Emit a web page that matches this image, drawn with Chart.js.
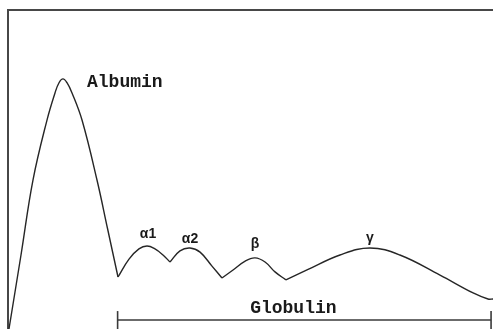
<!DOCTYPE html>
<html>
<head>
<meta charset="utf-8">
<script src="https://cdn.jsdelivr.net/npm/chart.js@4"></script>
<style>
  html, body { margin: 0; padding: 0; background: #fff; }
  #wrap { width: 493px; height: 329px; }
</style>
</head>
<body>
<div id="wrap"><canvas id="c" width="493" height="329"></canvas></div>
<script>
// Serum protein electrophoresis curve (relative mobility 0-100, relative density 0-100)
const fractionNames = ['Albumin', 'α1', 'α2', 'β', 'γ'];

const albuminX = [0.2, 2.68, 5.15, 8.04, 9.69, 10.52, 11.34, 12.16, 13.2, 15.26, 18.35, 20.52, 22.68];
const albuminY = [0, 23.2, 46.7, 65.5, 74.0, 77.2, 78.4, 77.2, 74.0, 65.5, 46.7, 31.5, 16.3];

const alpha1X = [22.68, 24.95, 27.0, 28.66, 30.3, 31.96, 33.4];
const alpha1Y = [16.3, 21.9, 25.1, 26.0, 25.1, 23.2, 21.0];

const alpha2X = [33.4, 35.46, 37.53, 39.6, 42.06, 44.12];
const alpha2Y = [21.0, 24.5, 25.4, 24.1, 19.7, 16.0];

const betaX = [44.12, 46.4, 48.9, 50.93, 53.0, 55.05, 57.3];
const betaY = [16.0, 18.5, 21.3, 22.3, 21.0, 17.9, 15.4];

const gammaX = [57.3, 61.65, 68.45, 74.64, 80.8, 89.07, 95.9, 98.97, 100];
const gammaY = [15.4, 18.5, 23.2, 25.4, 23.2, 16.9, 11.3, 9.4, 9.4];

const globulinLabel = 'Globulin';
const globulinRangeX = [22.6, 99.6];
const globulinRangeY = [2.8, 2.8];

const seriesX = [albuminX, alpha1X, alpha2X, betaX, gammaX];
const seriesY = [albuminY, alpha1Y, alpha2Y, betaY, gammaY];

// label styling (offsets in px from each fraction's peak)
const labelStyle = [
  { font: 'bold 18px "Liberation Mono", "Courier New", monospace', align: 'left', dx: 24, dy: 4 },
  { font: 'bold 14px "Liberation Sans", Arial, sans-serif', align: 'center', dx: 1, dy: -12 },
  { font: 'bold 14px "Liberation Sans", Arial, sans-serif', align: 'center', dx: 0, dy: -9 },
  { font: 'bold 14px "Liberation Sans", Arial, sans-serif', align: 'center', dx: 0, dy: -14 },
  { font: 'bold 14px "Liberation Sans", Arial, sans-serif', align: 'center', dx: 0, dy: -10 }
];
const globulinStyle = { font: 'bold 18px "Liberation Mono", "Courier New", monospace', dx: -11, dy: -12 };

const zip = (xs, ys) => xs.map((x, i) => ({ x: x, y: ys[i] }));

const datasets = seriesX.map((xs, i) => ({
  label: fractionNames[i],
  data: zip(xs, seriesY[i]),
  borderColor: '#262626',
  borderWidth: 1.4,
  pointRadius: 0,
  fill: false,
  tension: 0.4
}));

datasets.push({
  label: globulinLabel,
  data: zip(globulinRangeX, globulinRangeY),
  borderColor: '#3a3a3a',
  borderWidth: 1.6,
  pointStyle: 'line',
  rotation: 90,
  pointRadius: 9,
  pointBorderWidth: 1.6,
  pointBorderColor: '#3a3a3a',
  tension: 0,
  clip: false
});

const labelPlugin = {
  id: 'fractionLabels',
  afterDatasetsDraw(chart) {
    const ctx = chart.ctx;
    ctx.save();
    ctx.fillStyle = '#1a1a1a';
    ctx.textBaseline = 'middle';
    fractionNames.forEach((name, i) => {
      const meta = chart.getDatasetMeta(i);
      const ys = seriesY[i];
      let k = 0;
      ys.forEach((v, j) => { if (v > ys[k]) k = j; });
      const pt = meta.data[k];
      const st = labelStyle[i];
      ctx.font = st.font;
      ctx.textAlign = st.align;
      ctx.fillText(name, pt.x + st.dx, pt.y + st.dy);
    });
    const gm = chart.getDatasetMeta(fractionNames.length);
    const a = gm.data[0], b = gm.data[1];
    ctx.font = globulinStyle.font;
    ctx.textAlign = 'center';
    ctx.fillText(globulinLabel, (a.x + b.x) / 2 + globulinStyle.dx, a.y + globulinStyle.dy);
    ctx.restore();
  }
};

new Chart(document.getElementById('c'), {
  type: 'line',
  data: { datasets: datasets },
  options: {
    responsive: false,
    devicePixelRatio: 1,
    animation: false,
    layout: { autoPadding: false, padding: { left: 8, top: 10, right: 0, bottom: 0 } },
    plugins: { legend: { display: false }, tooltip: { enabled: false } },
    scales: {
      x: {
        type: 'linear', position: 'top', min: 0, max: 100,
        ticks: { display: false },
        grid: { display: false, drawTicks: false },
        border: { display: true, color: '#474747', width: 2 }
      },
      y: {
        type: 'linear', min: 0, max: 100,
        ticks: { display: false },
        grid: { display: false, drawTicks: false },
        border: { display: true, color: '#474747', width: 2 }
      }
    }
  },
  plugins: [labelPlugin]
});
</script>
</body>
</html>
